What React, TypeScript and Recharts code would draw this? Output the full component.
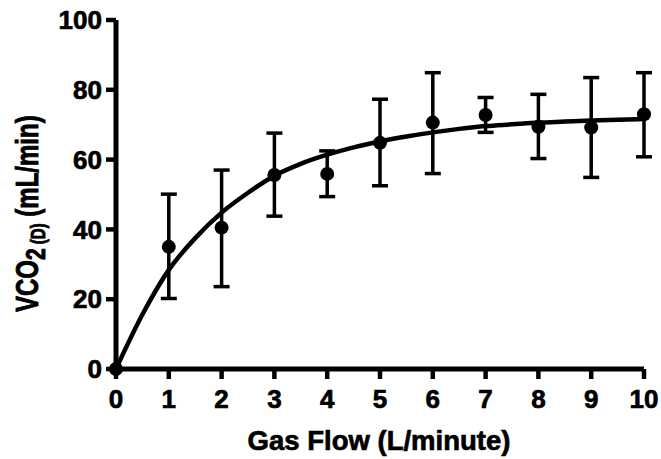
import {
  ComposedChart,
  Line,
  Scatter,
  ErrorBar,
  XAxis,
  YAxis,
} from "recharts";

// measured flows (L/minute)
const flows = [0, 1, 2, 3, 4, 5, 6, 7, 8, 9, 10];
// mean VCO2(D) and the error bar ends (mL/min)
const means = [0, 35, 40.5, 55.6, 55.9, 64.8, 70.6, 72.8, 69.4, 69.2, 73];
const lows = [0, 20.2, 23.6, 43.8, 49.4, 52.5, 56, 67.8, 60.3, 54.9, 60.8];
const highs = [0, 50.1, 57, 67.6, 62.5, 77.3, 84.9, 77.8, 78.7, 83.5, 84.9];

// fitted curve
const curveX = [0, 0.5, 1, 1.5, 2, 2.5, 3, 3.5, 4, 4.5, 5, 5.5, 6, 6.5, 7, 7.5, 8, 8.5, 9, 9.5, 10];
const curveY = [0, 15.6, 28.4, 37.5, 44.8, 50.5, 55.4, 58.8, 61.4, 63.5, 65.2, 66.6, 67.8, 68.8, 69.6, 70.1, 70.6, 70.9, 71.2, 71.4, 71.6];

const xTicks = [0, 1, 2, 3, 4, 5, 6, 7, 8, 9, 10];
const yTicks = [0, 20, 40, 60, 80, 100];

const points = flows.map((x, i) => ({
  x,
  y: means[i],
  err: [means[i] - lows[i], highs[i] - means[i]],
}));
const curve = curveX.map((x, i) => ({ x, y: curveY[i] }));

const FONT = "'Liberation Sans', Arial, sans-serif";
// a thin outline makes the bold text as heavy as in the figure
const heavy = { stroke: "#000", strokeWidth: 0.7 };

function makeTick(anchor: "middle" | "end", dy: string) {
  return (props: any) => (
    <text
      x={props.x}
      y={props.y}
      dy={dy}
      textAnchor={anchor}
      fontFamily={FONT}
      fontWeight="bold"
      fontSize={26}
      fill="#000"
      {...heavy}
    >
      {props.payload.value}
    </text>
  );
}

function YTitle() {
  // the y title in the figure is squeezed along its length
  return (
    <text
      transform="translate(38,312) rotate(-90) scale(1,1.3)"
      fontFamily={FONT}
      fontWeight="bold"
      fontSize={24}
      fill="#000"
      {...heavy}
    >
      <tspan>VCO</tspan>
      <tspan fontSize={21} dy={5}>2</tspan>
      <tspan fontSize={15}> (D)</tspan>
      <tspan dy={-5}> (mL/min)</tspan>
    </text>
  );
}

function XTitle() {
  return (
    <text
      x={379}
      y={450}
      textAnchor="middle"
      fontFamily={FONT}
      fontWeight="bold"
      fontSize={27.5}
      fill="#000"
      {...heavy}
    >
      Gas Flow (L/minute)
    </text>
  );
}

const Dot = (props: any) => (
  <circle cx={props.cx} cy={props.cy} r={7} fill="#000" />
);

export default function App() {
  return (
    <div style={{ position: "absolute", left: 0, top: 0, background: "#fff" }}>
      <ComposedChart
        width={661}
        height={459}
        margin={{ top: 20, right: 17, left: 56, bottom: 50 }}
      >
        <XAxis
          type="number"
          dataKey="x"
          domain={[0, 10]}
          ticks={xTicks}
          interval={0}
          height={40}
          axisLine={{ stroke: "#000", strokeWidth: 5 }}
          tickLine={{ stroke: "#000", strokeWidth: 4.5 }}
          tickSize={10}
          tickMargin={11}
          tick={makeTick("middle", "0.71em")}
          label={{ content: XTitle }}
        />
        <YAxis
          type="number"
          dataKey="y"
          domain={[0, 100]}
          ticks={yTicks}
          interval={0}
          width={60}
          axisLine={{ stroke: "#000", strokeWidth: 5 }}
          tickLine={{ stroke: "#000", strokeWidth: 4.5 }}
          tickSize={10}
          tickMargin={4}
          tick={makeTick("end", "0.355em")}
          label={{ content: YTitle }}
        />
        <Line
          data={curve}
          dataKey="y"
          type="monotone"
          stroke="#000"
          strokeWidth={4.5}
          dot={false}
          activeDot={false}
          isAnimationActive={false}
        />
        <Scatter
          data={points}
          dataKey="y"
          fill="#000"
          shape={Dot}
          isAnimationActive={false}
        >
          <ErrorBar
            dataKey="err"
            direction="y"
            width={8}
            stroke="#000"
            strokeWidth={3.5}
            isAnimationActive={false}
          />
        </Scatter>
      </ComposedChart>
    </div>
  );
}
